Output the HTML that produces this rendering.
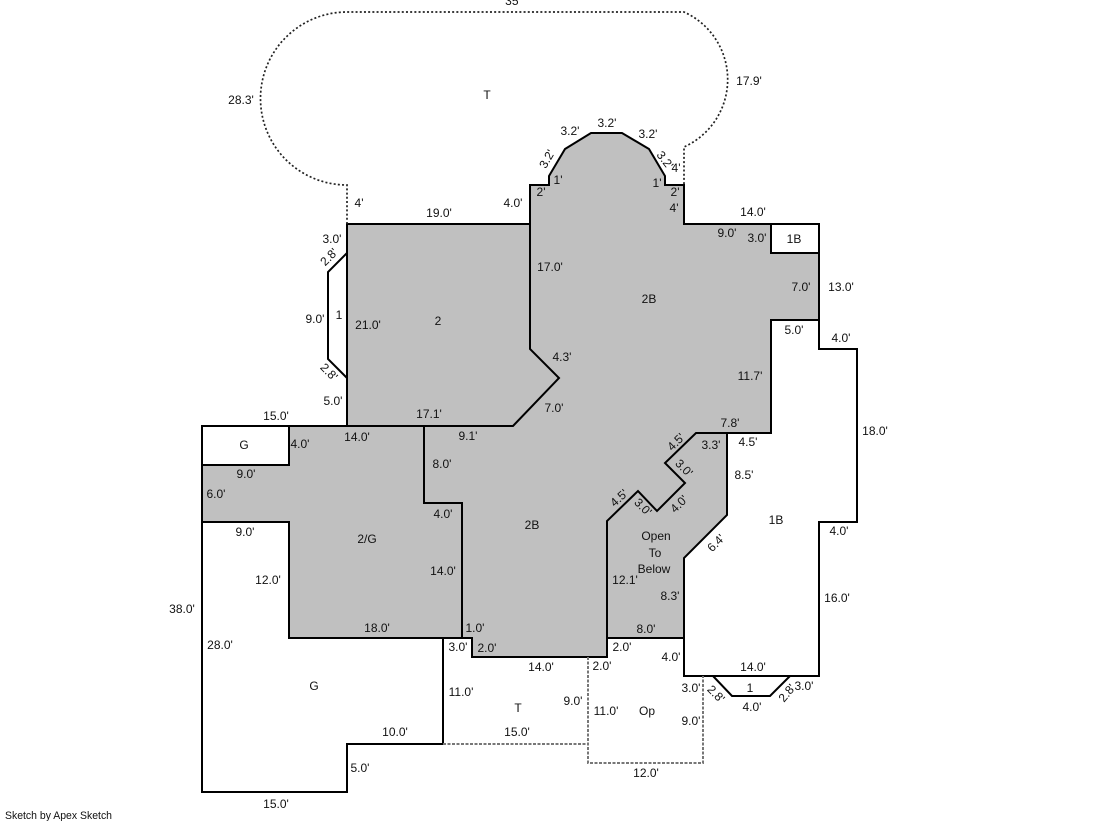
<!DOCTYPE html>
<html><head><meta charset="utf-8"><style>
html,body{margin:0;padding:0;background:#fff;overflow:hidden}
svg{display:block}
text{font-family:"Liberation Sans",sans-serif;font-size:12px;fill:#111;text-anchor:middle}
</style></head><body>
<svg width="1119" height="821" viewBox="0 0 1119 821" xmlns="http://www.w3.org/2000/svg">
<path d="M347 224H530V185H549V176L565 149L591 133H622L649 149L665 176V185H684V224H819V320H771V433H696L665 463L685 483L657 511L638 491L607 521V657H472V638H289V522H202V426H347Z" fill="#c0c0c0"/>
<path d="M607 638V521L638 491L657 511L685 483L665 463L696 433H727V515L684 558V638Z" fill="#c0c0c0"/>
<rect x="202" y="426" width="87" height="39" fill="#fff"/>
<rect x="771" y="224" width="48" height="29" fill="#fff"/>
<g fill="none" stroke="#000" stroke-width="2">
<path d="M347 426V224H530V185H549V176L565 149L591 133H622L649 149L665 176V185H684V224H819V349H857V522H819V676H684V558L727 515V433H696L665 463L685 483L657 511L638 491L607 521V657H472V638H289V522H202V426H347"/>
<path d="M530 224V349L559 378L513 426H424V503H462V638"/>
<path d="M347 426H424"/><path d="M202 465H289V426"/><path d="M771 224V253H819"/>
<path d="M819 320H771V433H727"/><path d="M607 638H684"/>
<path d="M347 253L328 272V359L347 378"/>
<path d="M713 676L732 696H770L790 676"/>
<path d="M202 522V792H347V744H443V638H462"/>
</g>
<g fill="none" stroke="#222" stroke-width="1.7" stroke-dasharray="2 2.2">
<path d="M347 224V185A86.5 86.5 0 0 1 347 12H684A74 74 0 0 1 684 147V185"/>
</g>
<g fill="none" stroke="#777" stroke-width="2" stroke-dasharray="3 1.5">
<path d="M443 744H588"/><path d="M588 657V763H703V676"/>
</g>
<g>
<text x="513" y="5">35'</text>
<text x="241" y="104">28.3'</text><text x="749" y="85">17.9'</text><text x="487" y="99">T</text>
<text x="570" y="135">3.2'</text><text x="607" y="127">3.2'</text><text x="648" y="138">3.2'</text>
<text x="547" y="163" transform="rotate(-60 547 159)">3.2'</text>
<text x="665" y="164" transform="rotate(52 665 160)">3.2'</text>
<text x="676" y="172">4'</text><text x="558" y="184">1'</text><text x="657" y="187">1'</text>
<text x="541" y="196">2'</text><text x="675" y="196">2'</text><text x="674" y="212">4'</text>
<text x="513" y="207">4.0'</text><text x="439" y="217">19.0'</text><text x="359" y="207">4'</text>
<text x="753" y="216">14.0'</text><text x="727" y="237">9.0'</text><text x="757" y="242">3.0'</text><text x="794" y="243">1B</text>
<text x="332" y="243">3.0'</text>
<text x="329" y="261" transform="rotate(-45 329 257)">2.8'</text>
<text x="315" y="323">9.0'</text><text x="339" y="319">1</text><text x="368" y="329">21.0'</text><text x="438" y="325">2</text>
<text x="329" y="376" transform="rotate(45 329 372)">2.8'</text>
<text x="333" y="405">5.0'</text><text x="276" y="420">15.0'</text><text x="429" y="418">17.1'</text>
<text x="244" y="449">G</text><text x="300" y="448">4.0'</text><text x="357" y="441">14.0'</text><text x="468" y="440">9.1'</text>
<text x="246" y="478">9.0'</text><text x="216" y="498">6.0'</text><text x="442" y="468">8.0'</text><text x="443" y="518">4.0'</text>
<text x="367" y="543">2/G</text><text x="245" y="536">9.0'</text><text x="443" y="575">14.0'</text><text x="268" y="584">12.0'</text>
<text x="182" y="613">38.0'</text><text x="220" y="649">28.0'</text><text x="377" y="632">18.0'</text><text x="475" y="632">1.0'</text>
<text x="458" y="651">3.0'</text><text x="487" y="652">2.0'</text><text x="541" y="671">14.0'</text><text x="602" y="670">2.0'</text>
<text x="314" y="690">G</text><text x="461" y="696">11.0'</text><text x="573" y="705">9.0'</text><text x="518" y="712">T</text>
<text x="606" y="715">11.0'</text><text x="647" y="715">Op</text><text x="517" y="736">15.0'</text><text x="395" y="736">10.0'</text>
<text x="360" y="772">5.0'</text><text x="276" y="808">15.0'</text><text x="646" y="777">12.0'</text><text x="691" y="725">9.0'</text><text x="691" y="692">3.0'</text>
<text x="716" y="698" transform="rotate(45 716 694)">2.8'</text>
<text x="750" y="692">1</text><text x="752" y="711">4.0'</text>
<text x="787" y="697" transform="rotate(-50 787 693)">2.8'</text>
<text x="804" y="690">3.0'</text><text x="753" y="671">14.0'</text><text x="671" y="661">4.0'</text><text x="622" y="651">2.0'</text>
<text x="646" y="633">8.0'</text><text x="670" y="600">8.3'</text><text x="625" y="584">12.1'</text>
<text x="656" y="540">Open</text><text x="655" y="557">To</text><text x="654" y="573">Below</text>
<text x="716" y="547" transform="rotate(-45 716 543)">6.4'</text>
<text x="744" y="479">8.5'</text><text x="776" y="524">1B</text><text x="748" y="446">4.5'</text><text x="711" y="449">3.3'</text><text x="730" y="427">7.8'</text>
<text x="676" y="446" transform="rotate(-45 676 442)">4.5'</text>
<text x="684" y="472" transform="rotate(45 684 468)">3.0'</text>
<text x="679" y="508" transform="rotate(-45 679 504)">4.0'</text>
<text x="643" y="511" transform="rotate(45 643 507)">3.0'</text>
<text x="619" y="502" transform="rotate(-42 619 498)">4.5'</text>
<text x="532" y="529">2B</text><text x="554" y="412">7.0'</text><text x="562" y="361">4.3'</text><text x="550" y="271">17.0'</text>
<text x="649" y="303">2B</text><text x="801" y="291">7.0'</text><text x="841" y="291">13.0'</text><text x="794" y="334">5.0'</text>
<text x="841" y="342">4.0'</text><text x="750" y="380">11.7'</text><text x="875" y="435">18.0'</text><text x="839" y="535">4.0'</text><text x="837" y="602">16.0'</text>
<text x="5" y="819" style="text-anchor:start;font-size:11px" textLength="107" lengthAdjust="spacingAndGlyphs">Sketch by Apex Sketch</text>
</g>
</svg>
</body></html>
